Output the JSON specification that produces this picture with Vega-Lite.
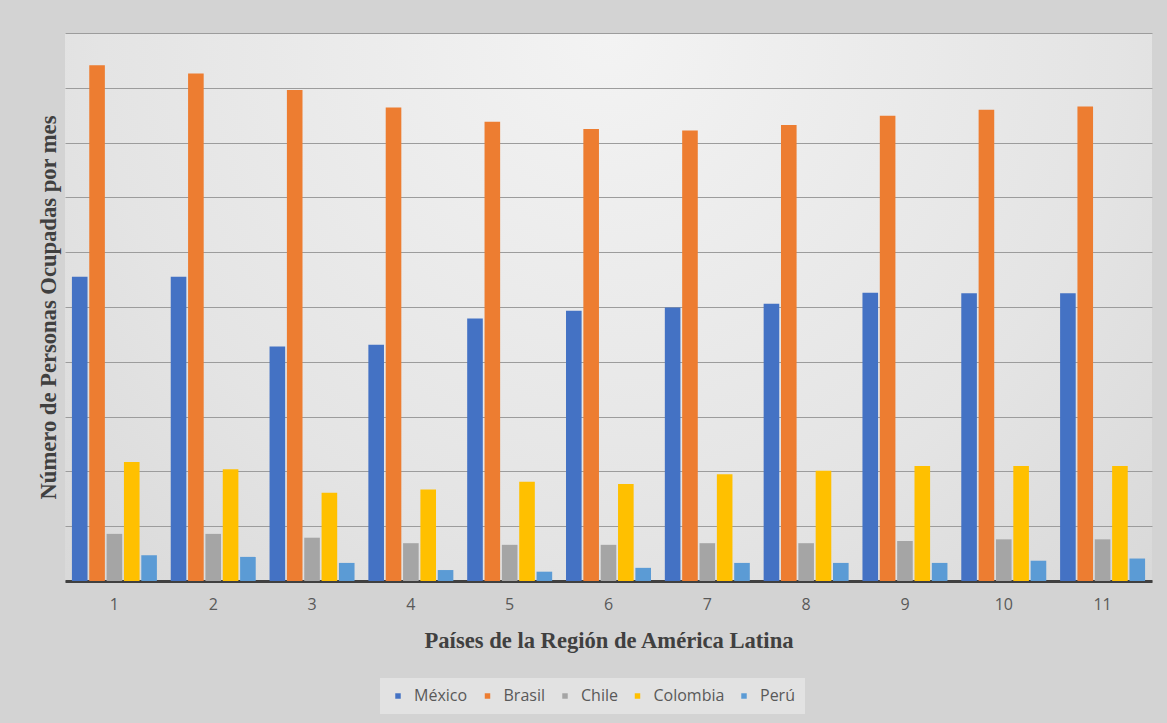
{
  "$schema": "https://vega.github.io/schema/vega-lite/v6.json",
  "width": 1087,
  "height": 548,
  "autosize": {"type": "none"},
  "padding": {"left": 65, "top": 33, "right": 15, "bottom": 142},
  "background": "#d3d3d3",
  "config": {
    "view": {
      "stroke": null,
      "fill": {
        "gradient": "radial",
        "x1": 0.5, "y1": 0.25, "x2": 0.5, "y2": 0.25,
        "r1": 0, "r2": 0.85,
        "stops": [
          {"offset": 0, "color": "#f3f3f3"},
          {"offset": 0.55, "color": "#e4e4e4"},
          {"offset": 1, "color": "#d2d2d2"}
        ]
      }
    }
  },
  "data": {
    "values": [
      {"pais": 1, "serie": "México", "valor": 55.5},
      {"pais": 1, "serie": "Brasil", "valor": 94.1},
      {"pais": 1, "serie": "Chile", "valor": 8.6},
      {"pais": 1, "serie": "Colombia", "valor": 21.7},
      {"pais": 1, "serie": "Perú", "valor": 4.7},
      {"pais": 2, "serie": "México", "valor": 55.5},
      {"pais": 2, "serie": "Brasil", "valor": 92.6},
      {"pais": 2, "serie": "Chile", "valor": 8.6},
      {"pais": 2, "serie": "Colombia", "valor": 20.4},
      {"pais": 2, "serie": "Perú", "valor": 4.4},
      {"pais": 3, "serie": "México", "valor": 42.8},
      {"pais": 3, "serie": "Brasil", "valor": 89.6},
      {"pais": 3, "serie": "Chile", "valor": 7.9},
      {"pais": 3, "serie": "Colombia", "valor": 16.1},
      {"pais": 3, "serie": "Perú", "valor": 3.3},
      {"pais": 4, "serie": "México", "valor": 43.1},
      {"pais": 4, "serie": "Brasil", "valor": 86.4},
      {"pais": 4, "serie": "Chile", "valor": 6.9},
      {"pais": 4, "serie": "Colombia", "valor": 16.7},
      {"pais": 4, "serie": "Perú", "valor": 2.0},
      {"pais": 5, "serie": "México", "valor": 47.9},
      {"pais": 5, "serie": "Brasil", "valor": 83.8},
      {"pais": 5, "serie": "Chile", "valor": 6.6},
      {"pais": 5, "serie": "Colombia", "valor": 18.1},
      {"pais": 5, "serie": "Perú", "valor": 1.7},
      {"pais": 6, "serie": "México", "valor": 49.3},
      {"pais": 6, "serie": "Brasil", "valor": 82.5},
      {"pais": 6, "serie": "Chile", "valor": 6.6},
      {"pais": 6, "serie": "Colombia", "valor": 17.7},
      {"pais": 6, "serie": "Perú", "valor": 2.4},
      {"pais": 7, "serie": "México", "valor": 49.9},
      {"pais": 7, "serie": "Brasil", "valor": 82.2},
      {"pais": 7, "serie": "Chile", "valor": 6.9},
      {"pais": 7, "serie": "Colombia", "valor": 19.5},
      {"pais": 7, "serie": "Perú", "valor": 3.3},
      {"pais": 8, "serie": "México", "valor": 50.6},
      {"pais": 8, "serie": "Brasil", "valor": 83.2},
      {"pais": 8, "serie": "Chile", "valor": 6.9},
      {"pais": 8, "serie": "Colombia", "valor": 20.1},
      {"pais": 8, "serie": "Perú", "valor": 3.3},
      {"pais": 9, "serie": "México", "valor": 52.6},
      {"pais": 9, "serie": "Brasil", "valor": 84.9},
      {"pais": 9, "serie": "Chile", "valor": 7.3},
      {"pais": 9, "serie": "Colombia", "valor": 21.0},
      {"pais": 9, "serie": "Perú", "valor": 3.3},
      {"pais": 10, "serie": "México", "valor": 52.5},
      {"pais": 10, "serie": "Brasil", "valor": 86.0},
      {"pais": 10, "serie": "Chile", "valor": 7.6},
      {"pais": 10, "serie": "Colombia", "valor": 21.0},
      {"pais": 10, "serie": "Perú", "valor": 3.7},
      {"pais": 11, "serie": "México", "valor": 52.5},
      {"pais": 11, "serie": "Brasil", "valor": 86.6},
      {"pais": 11, "serie": "Chile", "valor": 7.6},
      {"pais": 11, "serie": "Colombia", "valor": 21.0},
      {"pais": 11, "serie": "Perú", "valor": 4.1}
    ]
  },
  "mark": {"type": "bar"},
  "encoding": {
    "x": {
      "field": "pais",
      "type": "ordinal",
      "scale": {"paddingInner": 0.14, "paddingOuter": 0.07},
      "axis": {
        "title": "Países de la Región de América Latina",
        "titleFont": "Liberation Serif",
        "titleFontSize": 22.6,
        "titleFontWeight": "bold",
        "titleColor": "#404040",
        "titleY": 59,
        "titleBaseline": "middle",
        "labelAngle": 0,
        "labelFont": "Open Sans",
        "labelFontSize": 16,
        "labelColor": "#595959",
        "labelPadding": 15,
        "ticks": false,
        "domainColor": "#404040",
        "domainWidth": 3,
        "grid": false
      }
    },
    "xOffset": {
      "field": "serie",
      "type": "nominal",
      "sort": ["México", "Brasil", "Chile", "Colombia", "Perú"],
      "scale": {"paddingInner": 0.1}
    },
    "y": {
      "field": "valor",
      "type": "quantitative",
      "scale": {"domain": [0, 100], "nice": false},
      "axis": {
        "title": "Número de Personas Ocupadas por mes",
        "titleFont": "Liberation Serif",
        "titleFontSize": 22.6,
        "titleFontWeight": "bold",
        "titleColor": "#404040",
        "titleX": -17,
        "titleY": 274,
        "titleAngle": -90,
        "titleAlign": "center",
        "titleBaseline": "middle",
        "values": [0, 10, 20, 30, 40, 50, 60, 70, 80, 90, 100],
        "labels": false,
        "ticks": false,
        "domain": false,
        "gridColor": "#9c9c9c",
        "gridWidth": 1
      }
    },
    "color": {
      "field": "serie",
      "type": "nominal",
      "sort": ["México", "Brasil", "Chile", "Colombia", "Perú"],
      "scale": {
        "domain": ["México", "Brasil", "Chile", "Colombia", "Perú"],
        "range": ["#4472C4", "#ED7D31", "#A5A5A5", "#FFC000", "#5B9BD5"]
      },
      "legend": {
        "title": null,
        "orient": "none",
        "direction": "horizontal",
        "legendX": 315,
        "legendY": 645,
        "symbolType": "square",
        "symbolSize": 30,
        "symbolStrokeWidth": 0,
        "labelFont": "Open Sans",
        "labelFontSize": 16,
        "labelColor": "#595959",
        "columnPadding": 11.5,
        "labelOffset": 8,
        "fillColor": "#e2e2e2",
        "padding": 10
      }
    }
  }
}
